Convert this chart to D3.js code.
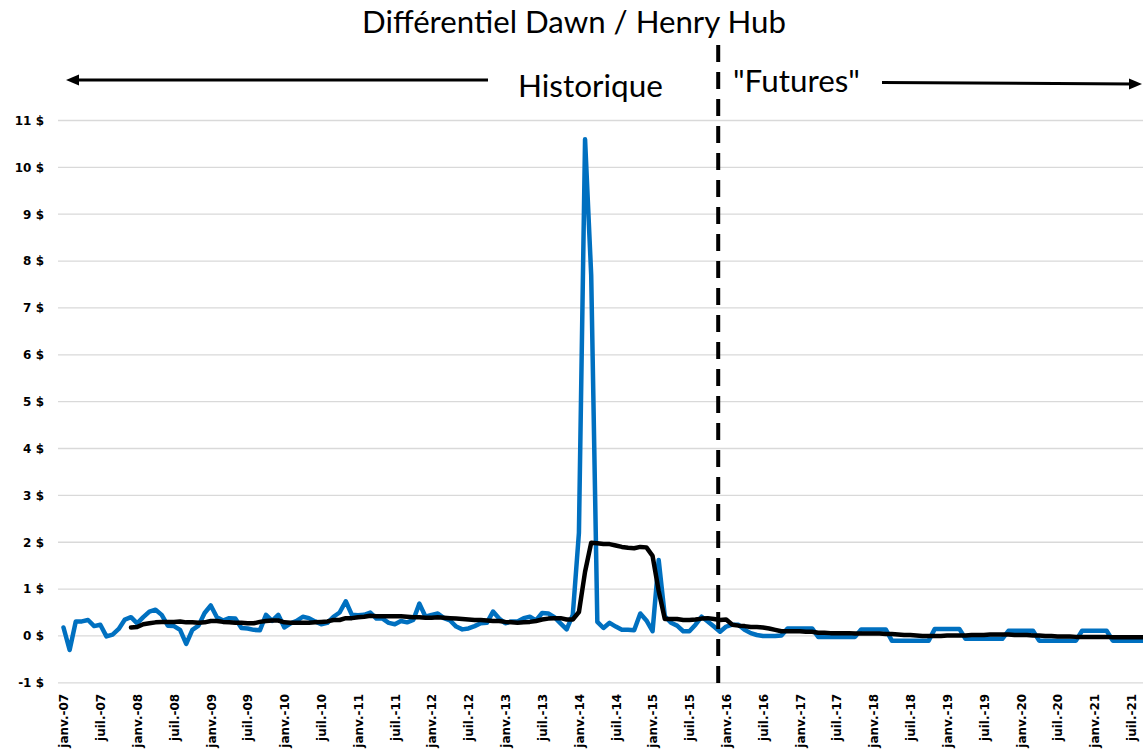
<!DOCTYPE html>
<html><head><meta charset="utf-8">
<script src="https://cdn.jsdelivr.net/npm/d3@7"></script>
<style>html,body{margin:0;padding:0;background:#fff;overflow:hidden}</style>
</head><body>
<svg id="c" width="1143" height="751"></svg>
<script>
// ---- DATA ----
const blueValues = [
 0.18,-0.30,0.31,0.31,0.34,0.21,0.24,-0.01,0.03,0.15,0.35,0.40,
 0.27,0.40,0.52,0.56,0.45,0.22,0.21,0.13,-0.17,0.13,0.22,0.49,
 0.65,0.40,0.33,0.38,0.37,0.17,0.16,0.13,0.12,0.45,0.32,0.45,
 0.18,0.27,0.32,0.41,0.38,0.31,0.25,0.28,0.41,0.50,0.74,0.45,
 0.44,0.45,0.50,0.37,0.37,0.28,0.25,0.32,0.29,0.34,0.69,0.41,
 0.45,0.48,0.38,0.33,0.20,0.14,0.16,0.21,0.27,0.28,0.52,0.37,
 0.27,0.31,0.31,0.38,0.41,0.33,0.49,0.48,0.40,0.27,0.14,0.45,
 2.20,10.60,7.70,0.30,0.17,0.28,0.20,0.13,0.13,0.12,0.48,0.33,
 0.10,1.62,0.42,0.28,0.22,0.10,0.10,0.24,0.41,0.31,0.20,0.09,
 0.20,0.24,0.24,0.13,0.06,0.02,0.00,0.00,0.00,0.01,0.16,0.16,
 0.16,0.16,0.16,-0.02,-0.02,-0.02,-0.02,-0.02,-0.02,-0.02,0.14,0.14,
 0.14,0.14,0.14,-0.10,-0.10,-0.10,-0.10,-0.10,-0.10,-0.10,0.15,0.15,
 0.15,0.15,0.15,-0.06,-0.06,-0.06,-0.06,-0.06,-0.06,-0.06,0.11,0.11,
 0.11,0.11,0.11,-0.10,-0.10,-0.10,-0.10,-0.10,-0.10,-0.10,0.11,0.11,
 0.11,0.11,0.11,-0.10,-0.10,-0.10,-0.10,-0.10,-0.10
];
const movingAvg = [
 null,null,null,null,null,null,null,null,null,null,null,0.18,
 0.19,0.25,0.27,0.29,0.30,0.30,0.30,0.31,0.29,0.29,0.28,0.29,
 0.32,0.32,0.30,0.29,0.28,0.28,0.27,0.27,0.30,0.32,0.33,0.33,
 0.29,0.28,0.28,0.28,0.28,0.29,0.30,0.31,0.34,0.34,0.38,0.38,
 0.40,0.41,0.43,0.42,0.42,0.42,0.42,0.42,0.41,0.40,0.40,0.39,
 0.39,0.40,0.39,0.38,0.37,0.36,0.35,0.34,0.34,0.33,0.32,0.32,
 0.30,0.29,0.28,0.29,0.30,0.32,0.35,0.37,0.38,0.38,0.35,0.35,
 0.51,1.37,1.99,1.98,1.96,1.96,1.93,1.90,1.88,1.87,1.90,1.89,
 1.71,0.96,0.36,0.36,0.36,0.34,0.34,0.35,0.37,0.38,0.36,0.34,
 0.35,0.24,0.22,0.21,0.19,0.19,0.18,0.16,0.13,0.10,0.10,0.10,
 0.10,0.09,0.09,0.07,0.07,0.06,0.06,0.06,0.06,0.05,0.05,0.05,
 0.05,0.05,0.04,0.04,0.03,0.02,0.02,0.01,0.00,0.00,0.00,0.00,
 0.01,0.01,0.01,0.01,0.02,0.02,0.02,0.03,0.03,0.03,0.03,0.02,
 0.02,0.02,0.01,0.01,0.00,0.00,-0.01,-0.01,-0.01,-0.02,-0.02,-0.02,
 -0.02,-0.02,-0.02,-0.03,-0.03,-0.03,-0.03,-0.03,-0.03
];
const yTicks = [-1,0,1,2,3,4,5,6,7,8,9,10,11];
const tickLabels = ["janv.-07","juil.-07","janv.-08","juil.-08","janv.-09","juil.-09","janv.-10","juil.-10",
 "janv.-11","juil.-11","janv.-12","juil.-12","janv.-13","juil.-13","janv.-14","juil.-14","janv.-15","juil.-15",
 "janv.-16","juil.-16","janv.-17","juil.-17","janv.-18","juil.-18","janv.-19","juil.-19","janv.-20","juil.-20",
 "janv.-21","juil.-21"];
const monthNames = ["janv.","févr.","mars","avr.","mai","juin","juil.","août","sept.","oct.","nov.","déc."];
const months = d3.timeMonth.range(new Date(2007,0,1), new Date(2021,9,1));
const categories = months.map(d => monthNames[d.getMonth()] + "-" + String(d.getFullYear() % 100).padStart(2,"0"));
const forecastStart = 106.7; // position (in months from janv.-07) of the Historique / Futures divider
const titleText = "Différentiel Dawn / Henry Hub";

// ---- CHART ----
const svg = d3.select("#c");
const x = d3.scalePoint().domain(categories).range([63.5, 63.5 + 6.136 * (categories.length - 1)]);
const y = d3.scaleLinear().domain([-1, 11]).range([682.8, 120.5]);
const plotLeft = 58, plotRight = 1143;

// gridlines
svg.append("g").selectAll("line").data(yTicks).join("line")
  .attr("x1", plotLeft).attr("x2", plotRight)
  .attr("y1", d => y(d)).attr("y2", d => y(d))
  .attr("stroke", "#d9d9d9").attr("stroke-width", 1.3);

// y axis labels
const yAxis = svg.append("g").attr("transform", "translate(47,0)")
  .call(d3.axisLeft(y).tickValues(yTicks).tickSize(0).tickPadding(3).tickFormat(d => d + "\u00a0$"));
yAxis.select(".domain").remove();
yAxis.selectAll("text").attr("font-family", "DejaVu Sans, sans-serif").attr("font-weight", "bold")
  .attr("font-size", 12).attr("fill", "#000");

// x axis labels
const xAxis = svg.append("g").attr("transform", `translate(0,${y(-1)})`)
  .call(d3.axisBottom(x).tickValues(tickLabels).tickSize(0));
xAxis.select(".domain").remove();
xAxis.selectAll("text")
  .attr("transform", "rotate(-90)").attr("x", -11).attr("y", 0).attr("dy", "0.36em")
  .attr("text-anchor", "end")
  .attr("font-family", "DejaVu Sans, sans-serif").attr("font-weight", "bold")
  .attr("font-size", 12).attr("fill", "#000");

// lines
const line = d3.line().defined(d => d != null).x((d, i) => x(categories[i])).y(d => y(d));
svg.append("path").datum(blueValues).attr("d", line)
  .attr("fill", "none").attr("stroke", "#0070C0").attr("stroke-width", 4.5)
  .attr("stroke-linejoin", "round").attr("stroke-linecap", "round");
svg.append("path").datum(movingAvg).attr("d", line)
  .attr("fill", "none").attr("stroke", "#000").attr("stroke-width", 4.5)
  .attr("stroke-linejoin", "round").attr("stroke-linecap", "round");

// divider
const xDiv = x(categories[0]) + forecastStart * x.step();
svg.append("line").attr("x1", xDiv).attr("x2", xDiv).attr("y1", 45).attr("y2", 690)
  .attr("stroke", "#000").attr("stroke-width", 4).attr("stroke-dasharray", "17,10");

// texts
function fit(sel, w) {
  const len = sel.node().getComputedTextLength();
  sel.attr("font-size", parseFloat(sel.attr("font-size")) * w / len);
}
const t = svg.append("text").attr("x", 362).attr("y", 33).text(titleText)
  .attr("font-family", "Lato, 'Open Sans', sans-serif").attr("font-size", 30).attr("fill", "#000");
fit(t, 424);
const h = svg.append("text").attr("x", 518).attr("y", 97).text("Historique")
  .attr("font-family", "Lato, 'Open Sans', sans-serif").attr("font-size", 28).attr("fill", "#000");
fit(h, 145);
const f = svg.append("text").attr("x", 733).attr("y", 92).text("\"Futures\"")
  .attr("font-family", "Lato, 'Open Sans', sans-serif").attr("font-size", 28).attr("fill", "#000");
fit(f, 127);

// arrows
svg.append("line").attr("x1", 74).attr("y1", 80).attr("x2", 488).attr("y2", 80)
  .attr("stroke", "#000").attr("stroke-width", 3);
svg.append("path").attr("d", "M66,80 L79,74.5 L79,85.5 Z").attr("fill", "#000");
svg.append("line").attr("x1", 882).attr("y1", 82.5).attr("x2", 1134).attr("y2", 84)
  .attr("stroke", "#000").attr("stroke-width", 3);
svg.append("path").attr("d", "M1142,84 L1129,78.5 L1129,89.5 Z").attr("fill", "#000");
</script>
</body></html>
